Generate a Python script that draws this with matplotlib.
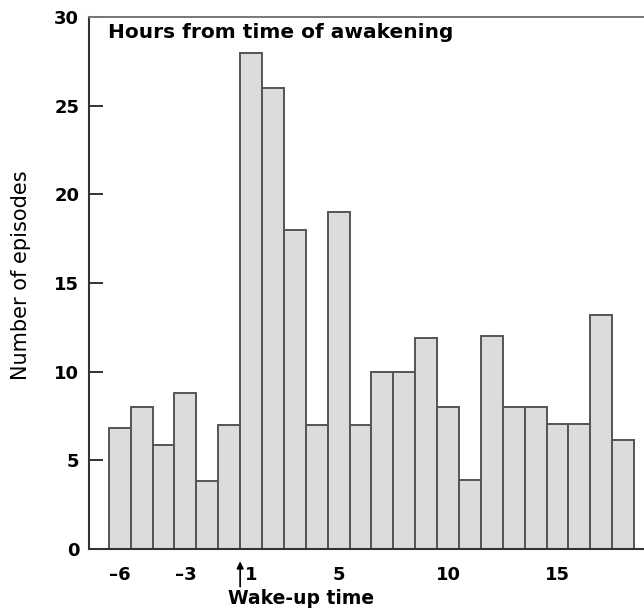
import matplotlib
matplotlib.use('Agg')
import matplotlib.pyplot as plt

plt.rcParams['font.family'] = ['DejaVu Sans']

# hours from time of awakening (no hour 0)
hours = [-6, -5, -4, -3, -2, -1, 1, 2, 3, 4, 5, 6, 7, 8, 9, 10, 11, 12, 13, 14, 15, 16, 17, 18]
episodes = [6.8, 8, 5.85, 8.8, 3.85, 7, 28, 26, 18, 7, 19, 7, 10, 10, 11.9, 8, 3.9, 12, 8, 8, 7.05, 7.05, 13.2, 6.15]
tick_hours = [-6, -3, 1, 5, 10, 15]
y_ticks = [0, 5, 10, 15, 20, 25, 30]

fig = plt.figure(figsize=(6.44, 6.09), dpi=100)
ax = fig.add_axes([0.138, 0.0985, 0.862, 0.8735])

pos = list(range(len(hours)))
ax.bar(pos, episodes, width=1.0, color='#dcdcdc', edgecolor='#555555', linewidth=1.4)

ax.set_xlim(-1.41, 23.95)
ax.set_ylim(0, 30)
ax.set_yticks(y_ticks)
ax.set_yticklabels([str(v) for v in y_ticks], fontsize=13, fontweight='bold')
ax.set_xticks([hours.index(h) for h in tick_hours])
ax.set_xticklabels([str(h).replace('-', '\u2013') for h in tick_hours], fontsize=13, fontweight='bold')
ax.tick_params(axis='y', direction='in', length=10, width=1.4, color='#333333', pad=7)
ax.tick_params(axis='x', length=0, pad=12)

ax.spines['right'].set_visible(False)
for s in ['left', 'bottom']:
    ax.spines[s].set_color('#333333')
    ax.spines[s].set_linewidth(1.5)
ax.spines['top'].set_color('#777777')
ax.spines['top'].set_linewidth(1.4)

ax.set_ylabel('Number of episodes', fontsize=15)
ax.yaxis.set_label_coords(-0.105, 0.515)

ax.text(0.034, 0.971, 'Hours from time of awakening', transform=ax.transAxes,
        fontsize=14.5, fontweight='bold', va='center', ha='left')

# wake-up arrow below the axis
tr = ax.get_xaxis_transform()
ax.annotate('', xy=(5.5, -0.018), xytext=(5.5, -0.076), xycoords=tr, textcoords=tr,
            annotation_clip=False,
            arrowprops=dict(arrowstyle='-|>', color='black', lw=1.2, mutation_scale=10))
ax.text(4.95, -0.093, 'Wake-up time', transform=tr, fontsize=13.5, fontweight='bold',
        va='center', ha='left', clip_on=False)

fig.savefig('out.png', dpi=100)
